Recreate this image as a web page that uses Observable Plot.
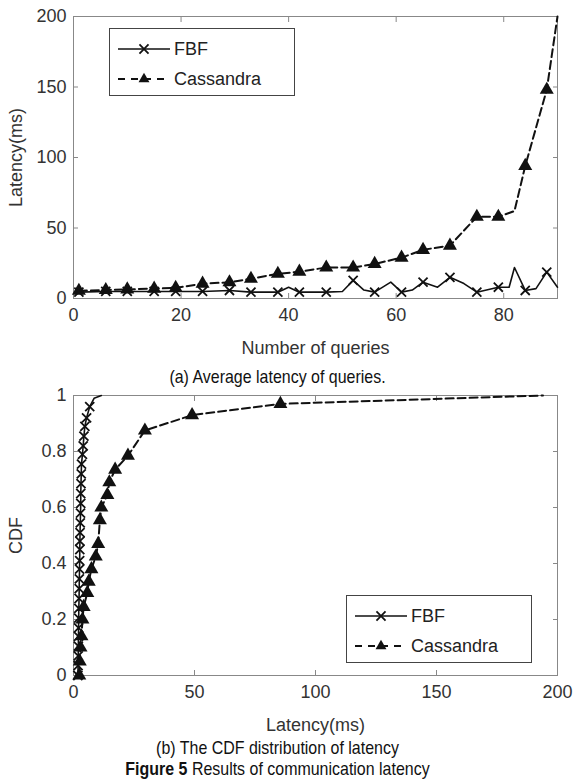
<!DOCTYPE html>
<html><head><meta charset="utf-8">
<script src="https://cdn.jsdelivr.net/npm/d3@7"></script>
<script src="https://cdn.jsdelivr.net/npm/@observablehq/plot@0.6"></script>
<style>
body{margin:0;background:#fff;}
#wrap{position:relative;width:573px;height:783px;overflow:hidden;}
.chart{position:absolute;left:0;}
.cap{position:absolute;left:0;width:555px;text-align:center;font-family:'Liberation Sans',Arial,sans-serif;font-size:19px;line-height:22px;color:#111;white-space:nowrap;transform:scaleX(0.84);transform-origin:277.5px 50%;}
.legend{position:absolute;background:#fff;border:1px solid #444;width:184px;height:66px;font-family:'Liberation Sans',Arial,sans-serif;font-size:18px;color:#222;}
.row{position:absolute;left:8px;height:22px;display:flex;align-items:center;}
.row svg{margin-right:4px;}
</style>
</head><body>
<div id="wrap">
  <div id="chartA" class="chart" style="top:0"></div>
  <div class="cap" style="top:366px">(a) Average latency of queries.</div>
  <div id="chartB" class="chart" style="top:380px"></div>
  <div class="cap" style="top:737px">(b) The CDF distribution of latency</div>
  <div class="cap" style="top:758px"><b>Figure 5</b> Results of communication latency</div>
</div>
<script>
// ---------- Panel (a): average latency vs number of queries ----------
const seriesNames = ["FBF", "Cassandra"];

const queriesCass = [1, 6, 10, 15, 19, 24, 29, 33, 38, 42, 47, 52, 56, 61, 65, 70, 75, 79, 82, 84, 88, 90];
const latencyCass = [5.5, 6, 6.5, 7, 7.5, 10.5, 11.5, 14, 17.5, 19, 22, 22, 24.5, 29, 34.5, 37.5, 58, 58, 62, 94, 148, 200];
const markedCass  = [1, 1, 1, 1, 1, 1, 1, 1, 1, 1, 1, 1, 1, 1, 1, 1, 1, 1, 0, 1, 1, 0];

const queriesFBF = [1, 6, 10, 15, 19, 24, 29, 33, 38, 40, 42, 47, 50, 52, 54, 56, 59, 61, 63, 65, 67.7, 70, 72.6, 75, 79, 81, 82, 84, 86, 88, 90];
const latencyFBF = [4.5, 5, 5, 5, 5, 5, 5.7, 4.5, 4.5, 8, 4.5, 4.5, 5, 12.8, 6, 4.5, 11.6, 4.5, 6, 11.6, 8, 15, 10.6, 4.5, 8, 8, 22, 5.7, 7, 18.7, 8];
const markedFBF  = [1, 1, 1, 1, 1, 1, 1, 1, 1, 0, 1, 1, 0, 1, 0, 1, 0, 1, 0, 1, 0, 1, 0, 1, 1, 0, 0, 1, 0, 1, 0];

const xTicksA = [0, 20, 40, 60, 80];
const yTicksA = [0, 50, 100, 150, 200];

// ---------- Panel (b): CDF of latency ----------
const latCdfFBF = [1.8, 1.9, 1.95, 2.0, 2.05, 2.1, 2.15, 2.2, 2.3, 2.35, 2.4, 2.5, 2.55, 2.6, 2.65, 2.7, 2.8, 2.9, 3.0, 3.0, 3.1, 3.2, 3.3, 3.7, 4.0, 4.3, 4.7, 5.4, 6.7, 8.5, 11.5];
const cdfFBF    = [0, 0.035, 0.07, 0.105, 0.14, 0.17, 0.205, 0.24, 0.275, 0.31, 0.345, 0.38, 0.41, 0.45, 0.48, 0.51, 0.545, 0.58, 0.615, 0.65, 0.685, 0.72, 0.755, 0.79, 0.82, 0.855, 0.89, 0.92, 0.96, 0.99, 1.0];
const markedCdfFBF = [1,1,1,1,1,1,1,1,1,1,1,1,1,1,1,1,1,1,1,1,1,1,1,1,1,1,1,1,1,0,0];

const latCdfCass = [2.4, 2.6, 2.9, 3.3, 3.7, 4.2, 5.7, 6.3, 7.4, 9.2, 10.2, 10.9, 11.5, 14, 14.8, 17.2, 22.5, 29.5, 49, 85.5, 194];
const cdfCass    = [0, 0.05, 0.10, 0.14, 0.20, 0.245, 0.295, 0.335, 0.38, 0.425, 0.47, 0.555, 0.60, 0.645, 0.69, 0.735, 0.785, 0.875, 0.93, 0.97, 1.0];
const markedCdfCass = [1,1,1,1,1,1,1,1,1,1,1,1,1,1,1,1,1,1,1,1,0];

const xTicksB = [0, 50, 100, 150, 200];
const yTicksB = [0, 0.2, 0.4, 0.6, 0.8, 1];

// ---------- styles ----------
const INK = "#111";
const R_TRI = 5.2, R_X = 4.2;
const dashCass = "8,4";

function rows(xs, ys, ms) { return xs.map((x, i) => ({x, y: ys[i], m: ms[i]})); }

function chart({fbf, cass, xDomain, yDomain, xTicks, yTicks, xLabel, yLabel, yFmt, height, marginTop, marginBottom}) {
  return Plot.plot({
    width: 573, height, marginLeft: 73, marginRight: 16, marginTop, marginBottom,
    x: {domain: xDomain}, y: {domain: yDomain},
    style: {fontFamily: "'Liberation Sans', Arial, sans-serif", fontSize: "18px", color: "#333", background: "transparent"},
    marks: [
      Plot.frame({stroke: "#888", strokeWidth: 1}),
      Plot.axisX(xTicks, {anchor: "bottom", tickSize: -5, tickPadding: 15, stroke: "#888", label: xLabel, labelAnchor: "center", labelArrow: "none", labelOffset: 55}),
      Plot.axisX(xTicks, {anchor: "top", tickSize: -5, stroke: "#888", tickFormat: () => "", label: null}),
      Plot.axisY(yTicks, {anchor: "left", tickSize: -5, tickPadding: 12, stroke: "#888", tickFormat: yFmt, label: yLabel, labelAnchor: "center", labelArrow: "none", labelOffset: 64}),
      Plot.axisY(yTicks, {anchor: "right", tickSize: -5, stroke: "#888", tickFormat: () => "", label: null}),
      Plot.line(cass, {x: "x", y: "y", stroke: INK, strokeWidth: 2, strokeDasharray: dashCass}),
      Plot.line(fbf, {x: "x", y: "y", stroke: INK, strokeWidth: 1.6}),
      Plot.dot(cass.filter(d => d.m), {x: "x", y: "y", symbol: "triangle", fill: INK, stroke: "none", r: R_TRI}),
      Plot.dot(fbf.filter(d => d.m), {x: "x", y: "y", symbol: "times", stroke: INK, strokeWidth: 1.8, r: R_X})
    ]
  });
}

const chartA = chart({
  fbf: rows(queriesFBF, latencyFBF, markedFBF),
  cass: rows(queriesCass, latencyCass, markedCass),
  xDomain: [0, 90], yDomain: [0, 200], xTicks: xTicksA, yTicks: yTicksA,
  xLabel: "Number of queries", yLabel: "Latency(ms)", yFmt: d => String(d),
  height: 365, marginTop: 16, marginBottom: 67
});
document.getElementById("chartA").append(chartA);

const chartB = chart({
  fbf: rows(latCdfFBF, cdfFBF, markedCdfFBF),
  cass: rows(latCdfCass, cdfCass, markedCdfCass),
  xDomain: [0, 200], yDomain: [0, 1], xTicks: xTicksB, yTicks: yTicksB,
  xLabel: "Latency(ms)", yLabel: "CDF", yFmt: d3.format("~g"),
  height: 365, marginTop: 15, marginBottom: 70
});
document.getElementById("chartB").append(chartB);

// ---------- legends (MATLAB-style boxes) ----------
function swatch(name) {
  const w = 52, h = 22, cy = h / 2;
  const svg = d3.create("svg").attr("width", w).attr("height", h);
  const isCass = name === "Cassandra";
  svg.append("line").attr("x1", 0).attr("x2", w).attr("y1", cy).attr("y2", cy)
    .attr("stroke", INK).attr("stroke-width", isCass ? 2 : 1.6)
    .attr("stroke-dasharray", isCass ? "7,6" : null);
  const sym = isCass ? d3.symbolTriangle2 : d3.symbolTimes;
  const r = isCass ? R_TRI : R_X;
  svg.append("path").attr("transform", `translate(${w / 2},${cy})`)
    .attr("d", d3.symbol(sym, Math.PI * r * r)())
    .attr("fill", isCass ? INK : "none").attr("stroke", isCass ? "none" : INK).attr("stroke-width", 1.8);
  return svg.node();
}
function legend(left, top) {
  const box = d3.select("#wrap").append("div").attr("class", "legend")
    .style("left", left + "px").style("top", top + "px");
  seriesNames.forEach((name, i) => {
    const row = box.append("div").attr("class", "row").style("top", (9 + i * 30) + "px");
    row.node().append(swatch(name));
    row.append("span").text(name);
  });
}
legend(109, 28);
legend(346, 595);
</script>
</body></html>
